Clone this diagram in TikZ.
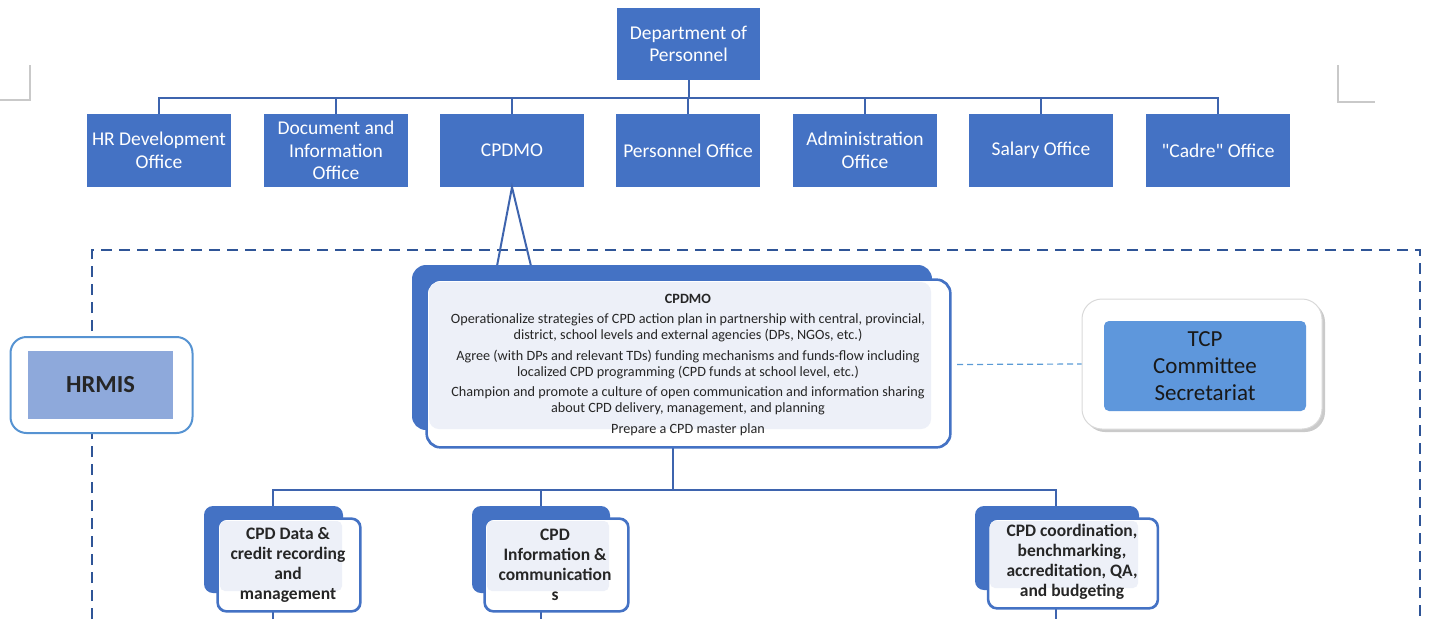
\documentclass[tikz,border=0pt]{standalone}
\usepackage{fontspec}
\setmainfont{Carlito}[Ligatures=TeXOff]
\usetikzlibrary{shadows}
\definecolor{mblue}{HTML}{4472C4}
\definecolor{lineblue}{HTML}{3E64AE}
\definecolor{lblue}{HTML}{5B9BD5}
\definecolor{tcpblue}{HTML}{5E97DC}
\definecolor{dblue}{HTML}{2F5597}
\definecolor{pale}{HTML}{EDF0F8}
\definecolor{hrfill}{HTML}{8EA9DB}
\definecolor{markgray}{HTML}{C9C9C9}
\begin{document}
\begin{tikzpicture}[x=1pt,y=-1pt,
  office/.style={fill=mblue, text=white, minimum width=144pt, minimum height=73pt,
    align=center, inner sep=1pt, font=\fontsize{19.5}{22.5}\selectfont},
  conn/.style={draw=lineblue, line width=2pt},
  backbox/.style={fill=mblue, rounded corners=9pt},
  frontbox/.style={draw=mblue, line width=1.6pt, fill=white, rounded corners=9pt},
  subtext/.style={align=center, font=\bfseries\fontsize{17.5}{20}\selectfont, text=black!85},
  cornermark/.style={draw=markgray, line width=1.5pt}
]
\useasboundingbox (0,0) rectangle (1429,619);

% corner marks
\draw[cornermark] (30,65) -- (30,100) -- (0,100);
\draw[cornermark] (1338,65) -- (1338,102) -- (1375,102);

% top level
\node[office, minimum width=143pt, minimum height=72pt] (dept) at (688.5,44) {Department of\\Personnel};
\node[office] (hr) at (159,150.5) {HR Development\\Office};
\node[office] (doc) at (336,150.5) {Document and\\Information\\Office};
\node[office] (cpd) at (512,150.5) {CPDMO};
\node[office] (pers) at (688,150.5) {Personnel Office};
\node[office] (adm) at (865,150.5) {Administration\\Office};
\node[office] (sal) at (1041,150.5) {Salary Office};
\node[office] (cad) at (1218,150.5) {"Cadre" Office};

\coordinate (bus) at (0,98);
\draw[conn] (dept.south) -- (dept.south |- bus);
\draw[conn] (hr.north) -- (hr.north |- bus) -- (cad.north |- bus) -- (cad.north);
\foreach \n in {doc,cpd,pers,adm,sal}{\draw[conn] (\n.north) -- (\n.north |- bus);}

% dashed frame
\draw[draw=dblue, line width=2.2pt, dash pattern=on 11pt off 7pt]
  (92,619) -- (92,250) -- (1420,250) -- (1420,619);

% triangle connector to detail
\coordinate (tl) at (497,266);
\coordinate (tr) at (531,266);
\draw[conn] (tl) -- (cpd.south) -- (tr);

% lower bus (drawn first, boxes cover it)
\coordinate (lbus) at (0,490);
\draw[conn] (673,447) -- (673,490);
\draw[conn] (273,619) -- (273,490) -- (1056,490) -- (1056,619);
\draw[conn] (541,490) -- (541,619);

% CPDMO detail box
\fill[backbox, rounded corners=14pt] (412,265) rectangle (932,430);
\node[frontbox, rounded corners=14pt, minimum width=523pt, minimum height=167pt, inner sep=0pt] (cpdmo) at (688.5,363.5) {};
\fill[pale, rounded corners=10pt] (429,282) rectangle (931,429);
\draw[draw=mblue, line width=1.6pt, rounded corners=14pt] (cpdmo.north west) rectangle (cpdmo.south east);
\node[align=center, font=\fontsize{14.2}{16}\selectfont, text=black!85] (cpdtext) at (688,364.5)
  {{\bfseries CPDMO}\\[4.5pt]
   Operationalize strategies of CPD action plan in partnership with central, provincial,\\
   district, school levels and external agencies (DPs, NGOs, etc.)\\[4.5pt]
   Agree (with DPs and relevant TDs) funding mechanisms and funds-flow including\\
   localized CPD programming (CPD funds at school level, etc.)\\[4.5pt]
   Champion and promote a culture of open communication and information sharing\\
   about CPD delivery, management, and planning\\[4.5pt]
   Prepare a CPD master plan};

% HRMIS
\node[draw=lblue!80!mblue, line width=2pt, fill=white, rounded corners=16pt,
      minimum width=182pt, minimum height=96pt] (hrmisout) at (101.5,385) {};
\node[fill=hrfill, minimum width=145pt, minimum height=68pt,
      font=\bfseries\fontsize{24.5}{27}\selectfont, text=black!85] (hrmis) at (100.5,385) {HRMIS};

% TCP
\node[fill=white, draw=black!15, line width=1pt, rounded corners=20pt,
      minimum width=240pt, minimum height=130pt,
      drop shadow={shadow xshift=3pt, shadow yshift=-3pt, fill=black!35, opacity=0.6}] (tcpout) at (1202,364) {};
\node[fill=tcpblue, rounded corners=5pt, minimum width=202pt, minimum height=90pt, align=center,
      font=\fontsize{23}{27}\selectfont, text=black!90] (tcp) at (1205,366)
      {TCP\\Committee\\Secretariat};
\draw[draw=lblue, line width=1.2pt, dash pattern=on 6pt off 4pt] (957,364.5) -- (tcpout.west);

% lower boxes
\fill[backbox] (204,506) rectangle (343,593);
\node[frontbox, minimum width=142pt, minimum height=92pt, inner sep=0pt] (b1) at (289,565) {};
\fill[pale, rounded corners=5pt] (220,521) rectangle (342,591);
\draw[draw=mblue, line width=1.6pt, rounded corners=9pt] (b1.north west) rectangle (b1.south east);
\node[subtext] (t1) at (288,565) {CPD Data \&\\credit recording\\and\\management};

\fill[backbox] (472,506) rectangle (610,593);
\node[frontbox, minimum width=143pt, minimum height=92pt, inner sep=0pt] (b2) at (556.5,565) {};
\fill[pale, rounded corners=5pt] (487,521) rectangle (609,591);
\draw[draw=mblue, line width=1.6pt, rounded corners=9pt] (b2.north west) rectangle (b2.south east);
\node[subtext] (t2) at (555,565) {CPD\\Information \&\\communication\\s};

\fill[backbox] (975,506) rectangle (1139,590);
\node[frontbox, minimum width=169pt, minimum height=89pt, inner sep=0pt] (b3) at (1073,563.5) {};
\fill[pale, rounded corners=5pt] (990,521) rectangle (1138,588);
\draw[draw=mblue, line width=1.6pt, rounded corners=9pt] (b3.north west) rectangle (b3.south east);
\node[subtext] (t3) at (1072,562) {CPD coordination,\\benchmarking,\\accreditation, QA,\\and budgeting};
\end{tikzpicture}
\end{document}
